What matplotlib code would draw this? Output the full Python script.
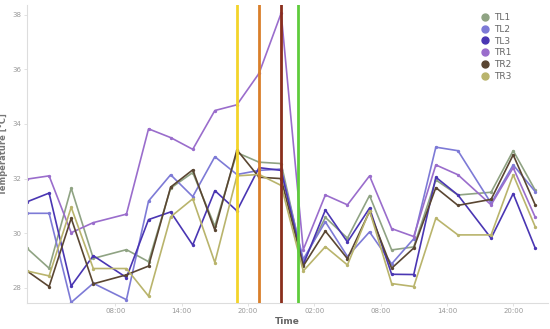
"""Sensor temperatures over two days with event markers."""

import matplotlib.dates as mdates
import matplotlib.pyplot as plt
import pandas as pd

# hours since start of day 1
hours = [0, 2, 4, 6, 9, 11, 13, 15, 17, 19, 21, 23, 25, 27, 29, 31, 33, 35, 37, 39, 42, 44, 46]

tl1 = [29.45, 28.72, 31.65, 29.08, 29.4, 28.96, 31.65, 32.22, 30.26, 32.95, 32.6, 32.55,
       28.95, 30.58, 29.82, 31.38, 29.39, 29.5, 31.95, 31.4, 31.5, 33.02, 31.57]
tl2 = [30.73, 30.73, 27.47, 28.17, 27.57, 31.18, 32.14, 31.34, 32.8, 32.15, 32.3, 32.35,
       29.05, 30.42, 29.15, 30.05, 28.88, 29.8, 33.15, 33.02, 31.1, 32.5, 31.52]
tl3 = [31.15, 31.47, 28.07, 29.18, 28.38, 30.5, 30.78, 29.57, 31.56, 30.82, 32.4, 32.3,
       28.85, 30.85, 29.68, 30.92, 28.5, 28.49, 32.05, 31.4, 29.82, 31.45, 29.45]
tr1 = [31.98, 32.1, 30.02, 30.39, 30.7, 33.82, 33.5, 33.07, 34.49, 34.7, 35.85, 38.05,
       29.4, 31.4, 31.04, 32.1, 30.17, 29.88, 32.5, 32.14, 31.04, 32.4, 30.58]
tr2 = [28.62, 28.05, 30.55, 28.15, 28.48, 28.8, 31.69, 32.32, 30.12, 33.05, 32.05, 32.0,
       28.8, 30.08, 29.07, 30.8, 28.72, 29.46, 31.67, 31.02, 31.24, 32.87, 31.03]
tr3 = [28.62, 28.44, 30.95, 28.71, 28.71, 27.7, 30.6, 31.26, 28.93, 32.1, 32.15, 31.75,
       28.62, 29.51, 28.84, 30.83, 28.16, 28.05, 30.55, 29.94, 29.94, 32.14, 30.23]

series = {"TL1": tl1, "TL2": tl2, "TL3": tl3, "TR1": tr1, "TR2": tr2, "TR3": tr3}
colors = {
    "TL1": "#8fa383",
    "TL2": "#7d7ad6",
    "TL3": "#4a36b3",
    "TR1": "#9a6dcc",
    "TR2": "#5a4632",
    "TR3": "#b9b46c",
}

# event markers (hours since start)
event_hours = [19, 21, 23, 24.5]
event_colors = ["#f3d42a", "#d97f2a", "#8a2e1c", "#5fcc3c"]

# x tick positions (hours since start)
tick_hours = [8, 14, 20, 26, 32, 38, 44]

start = pd.Timestamp("2020-06-01 00:00")
times = start + pd.to_timedelta(hours, unit="h")

fig = plt.figure(figsize=(5.5, 3.29), dpi=100)
ax = fig.add_axes([27 / 550, 1 - 302.7 / 329, 521 / 550, 297.7 / 329])

for name, values in series.items():
    ax.plot(times, values, color=colors[name], linewidth=1.2, marker="o", markersize=1.4,
            label=name, zorder=2)

for h, c in zip(event_hours, event_colors):
    ax.axvline(start + pd.Timedelta(hours=h), color=c, linewidth=2.0, zorder=3)

ax.set_xlim(start, start + pd.Timedelta(hours=47.15))
ax.set_ylim(27.46, 38.35)
ax.set_yticks([28, 30, 32, 34, 36, 38])
ax.set_xticks(start + pd.to_timedelta(tick_hours, unit="h"))
ax.xaxis.set_major_formatter(mdates.DateFormatter("%H:%M"))

for side in ("top", "right"):
    ax.spines[side].set_visible(False)
for side in ("left", "bottom"):
    ax.spines[side].set_color("#dddddd")
    ax.spines[side].set_linewidth(0.8)
ax.tick_params(colors="#dddddd", labelcolor="#999999", labelsize=5, length=2, width=0.6, pad=2)

ax.set_xlabel("Time", fontsize=6.5, color="#666666", fontweight="bold", labelpad=2)
ax.set_ylabel("Temperature [°C]", fontsize=6, color="#777777", fontweight="bold", labelpad=3)

leg = ax.legend(loc="upper right", bbox_to_anchor=(0.945, 1.0), frameon=False, fontsize=6.5,
                handlelength=0.6, handletextpad=0.7, labelspacing=0.3, markerscale=1)
for handle in leg.legend_handles:
    handle.set_linestyle("none")
    handle.set_marker("o")
    handle.set_markersize(5)
for text in leg.get_texts():
    text.set_color("#666666")

fig.savefig("out.png", dpi=100)
